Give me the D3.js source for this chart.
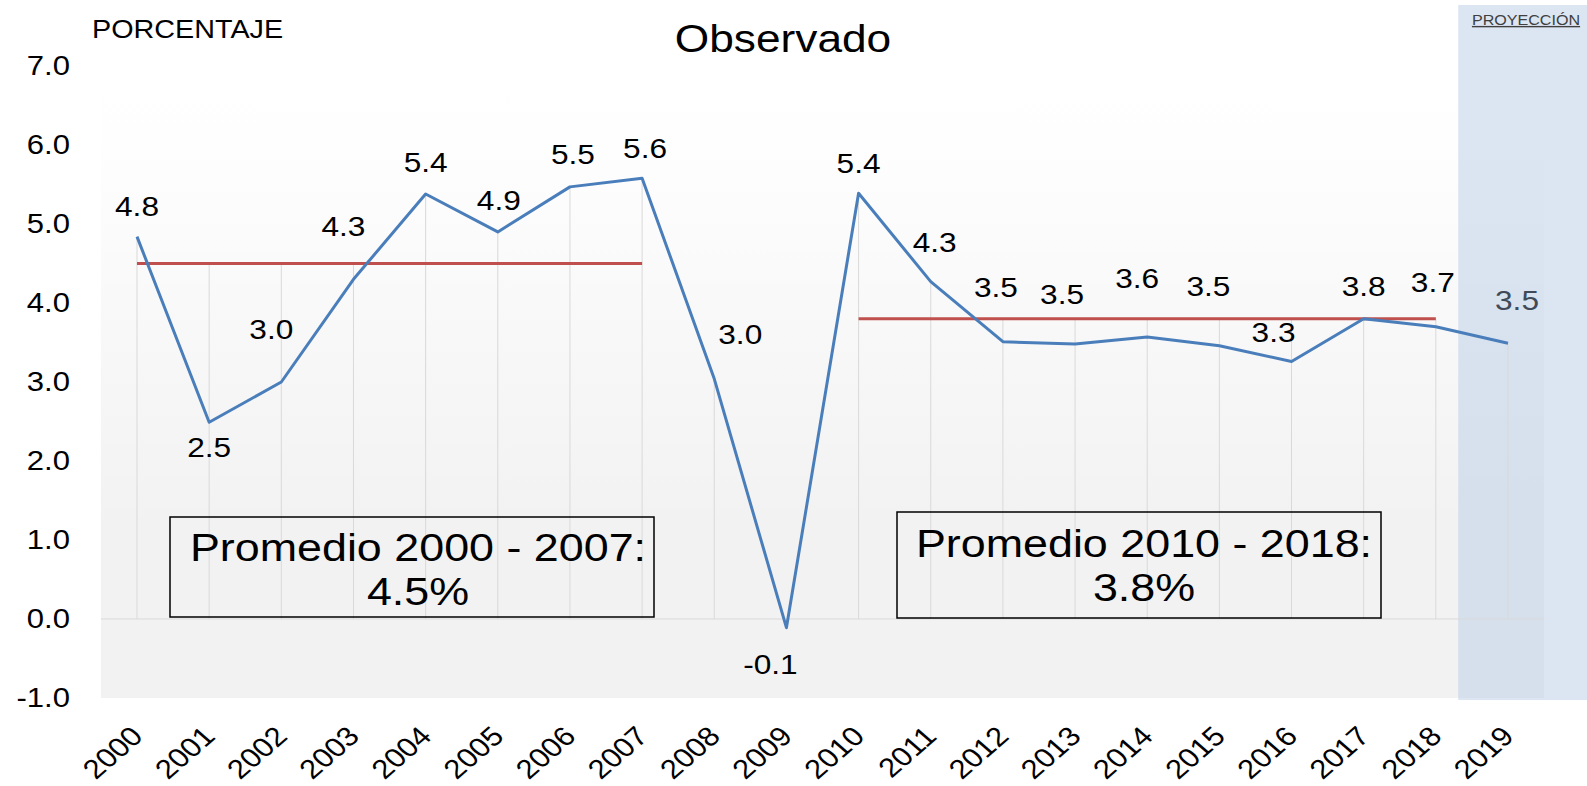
<!DOCTYPE html>
<html>
<head>
<meta charset="utf-8">
<script src="https://cdn.jsdelivr.net/npm/d3@7"></script>
<style>
    body { margin: 0; background: #fff; }
    svg { display: block; font-family: "Liberation Sans", Arial, sans-serif; }
</style>
</head>
<body>
<div id="chart"></div>
<script>
// --- data ---
const years = ['2000', '2001', '2002', '2003', '2004', '2005', '2006', '2007', '2008', '2009',
               '2010', '2011', '2012', '2013', '2014', '2015', '2016', '2017', '2018', '2019'];
const observed = [4.84, 2.49, 3.0, 4.3, 5.38, 4.9, 5.47, 5.58, 3.04, -0.11,
                  5.39, 4.27, 3.51, 3.48, 3.57, 3.46, 3.26, 3.80, 3.70, 3.49];
const avgStart = ['2000', '2010'];
const avgEnd = ['2007', '2018'];
const avgValue = [4.5, 3.8];
const avgBoxLines = [['Promedio 2000 - 2007:', '4.5%'], ['Promedio 2010 - 2018:', '3.8%']];
const yTicks = [-1, 0, 1, 2, 3, 4, 5, 6, 7];
const projectionYears = ['2019'];

// label nudges relative to each point (screen px)
const labelDx = [0, 0, -10, -10, 0, 1, 3, 3, 26, -16, 0, 4, -7, -13, -10, -11, -18, 0, -3, 9];
const labelDy = [-30, 25, -53, -53, -32, -32, -32, -30, -44, 37, -30, -39, -54, -50, -59, -59, -29, -32, -44, -43];

const width = 1587;
const height = 786;
const SX = 1.15;           // the source picture is stretched sideways
const ux = v => v / SX;    // screen px -> inner x units

const svg = d3.select('#chart')
    .append('svg')
    .attr('width', width)
    .attr('height', height);

const defs = svg.append('defs');
const grad = defs.append('linearGradient')
    .attr('id', 'plotBg')
    .attr('x1', 0).attr('y1', 0).attr('x2', 0).attr('y2', 1);
grad.append('stop').attr('offset', 0).attr('stop-color', '#ffffff');
grad.append('stop').attr('offset', 0.12).attr('stop-color', '#fefefe');
grad.append('stop').attr('offset', 0.72).attr('stop-color', '#f2f2f2');
grad.append('stop').attr('offset', 1).attr('stop-color', '#f2f2f2');

const g = svg.append('g').attr('transform', `scale(${SX},1)`);

// scales
const x = d3.scalePoint().domain(years).range([ux(137), ux(1508)]);
const y = d3.scaleLinear().domain([-1, 7]).range([698, 66]);
const half = x.step() / 2;
const left = x(years[0]) - half;
const right = x(years[years.length - 1]) + half;

// plot background
g.append('rect')
    .attr('x', left)
    .attr('y', y(7))
    .attr('width', right - left)
    .attr('height', y(-1) - y(7))
    .attr('fill', 'url(#plotBg)');

// projection band
const bandX = x(projectionYears[0]) - 0.69 * x.step();
g.append('rect')
    .attr('x', bandX)
    .attr('y', 5)
    .attr('width', ux(width) - bandX)
    .attr('height', y(-1) + 2 - 5)
    .attr('fill', '#b9cde5')
    .attr('opacity', 0.5);

// average value at a year (or null)
function avgAt(year) {
    const i = years.indexOf(year);
    for (let k = 0; k < avgValue.length; k++) {
        if (i >= years.indexOf(avgStart[k]) && i <= years.indexOf(avgEnd[k])) return avgValue[k];
    }
    return null;
}

// drop lines
g.append('g')
    .selectAll('line')
    .data(years)
    .enter()
    .append('line')
    .attr('x1', d => x(d))
    .attr('x2', d => x(d))
    .attr('y1', (d, i) => {
        const a = avgAt(d);
        const top = a === null ? observed[i] : Math.max(a, observed[i]);
        return y(top);
    })
    .attr('y2', y(0))
    .attr('stroke', '#d9d9d9')
    .attr('stroke-width', 1)
    .attr('vector-effect', 'non-scaling-stroke');

// zero line
g.append('line')
    .attr('x1', left).attr('x2', right)
    .attr('y1', y(0)).attr('y2', y(0))
    .attr('stroke', '#d9d9d9')
    .attr('stroke-width', 1)
    .attr('vector-effect', 'non-scaling-stroke');

// average lines
g.append('g')
    .selectAll('line')
    .data(avgValue)
    .enter()
    .append('line')
    .attr('x1', (d, k) => x(avgStart[k]))
    .attr('x2', (d, k) => x(avgEnd[k]))
    .attr('y1', d => y(d))
    .attr('y2', d => y(d))
    .attr('stroke', '#c0504d')
    .attr('stroke-width', 3)
    .attr('vector-effect', 'non-scaling-stroke');

// observed line
const points = years.map((yr, i) => ({ year: yr, value: observed[i], i }));
const line = d3.line().x(d => x(d.year)).y(d => y(d.value));
g.append('path')
    .datum(points)
    .attr('d', line)
    .attr('fill', 'none')
    .attr('stroke', '#4a7ebb')
    .attr('stroke-width', 3)
    .attr('stroke-linejoin', 'round')
    .attr('vector-effect', 'non-scaling-stroke');

// data labels
g.append('g')
    .selectAll('text')
    .data(points)
    .enter()
    .append('text')
    .attr('x', d => x(d.year) + ux(labelDx[d.i]))
    .attr('y', d => y(d.value) + labelDy[d.i])
    .attr('dy', '0.35em')
    .attr('text-anchor', 'middle')
    .style('font-size', '27.5px')
    .style('fill', d => projectionYears.includes(d.year) ? '#404a58' : '#000')
    .text(d => d.value.toFixed(1));

// y axis
const yAxis = g.append('g')
    .attr('transform', `translate(${ux(70)},0)`)
    .call(d3.axisLeft(y).tickValues(yTicks).tickSize(0).tickPadding(0).tickFormat(d => d.toFixed(1)));
yAxis.select('.domain').remove();
yAxis.attr('font-family', null).attr('font-size', null);
yAxis.selectAll('text').style('font-size', '27px').attr('fill', '#000');

// x axis
const xAxis = g.append('g')
    .call(d3.axisBottom(x).tickSize(0));
xAxis.select('.domain').remove();
xAxis.attr('font-family', null).attr('font-size', null);
xAxis.selectAll('text')
    .attr('y', 0)
    .attr('dy', 0)
    .attr('text-anchor', 'end')
    .attr('transform', `translate(${ux(7)},738) rotate(-45)`)
    .style('font-size', '27px')
    .attr('fill', '#000');

// titles
g.append('text')
    .attr('x', ux(783)).attr('y', 52)
    .attr('text-anchor', 'middle')
    .style('font-size', '38.5px')
    .text('Observado');

g.append('text')
    .attr('x', ux(92)).attr('y', 38)
    .style('font-size', '25px')
    .text('PORCENTAJE');

g.append('text')
    .attr('x', ux(1526)).attr('y', 25)
    .attr('text-anchor', 'middle')
    .style('font-size', '14px')
    .style('fill', '#404040')
    .style('text-decoration', 'underline')
    .text('PROYECCIÓN');

// average boxes
const boxX = [170, 897];
const boxW = [484, 484];
const boxY = [517, 512];
const boxH = [100, 106];
const boxTextX = [418, 1144];
const boxBase = [561, 557];

avgBoxLines.forEach((lines, k) => {
    g.append('rect')
        .attr('x', ux(boxX[k]))
        .attr('y', boxY[k])
        .attr('width', ux(boxW[k]))
        .attr('height', boxH[k])
        .attr('fill', 'none')
        .attr('stroke', '#000')
        .attr('stroke-width', 1.5)
        .attr('vector-effect', 'non-scaling-stroke');
    lines.forEach((t, j) => {
        g.append('text')
            .attr('x', ux(boxTextX[k]))
            .attr('y', boxBase[k] + j * 44)
            .attr('text-anchor', 'middle')
            .style('font-size', '39px')
            .text(t);
    });
});
</script>
</body>
</html>
